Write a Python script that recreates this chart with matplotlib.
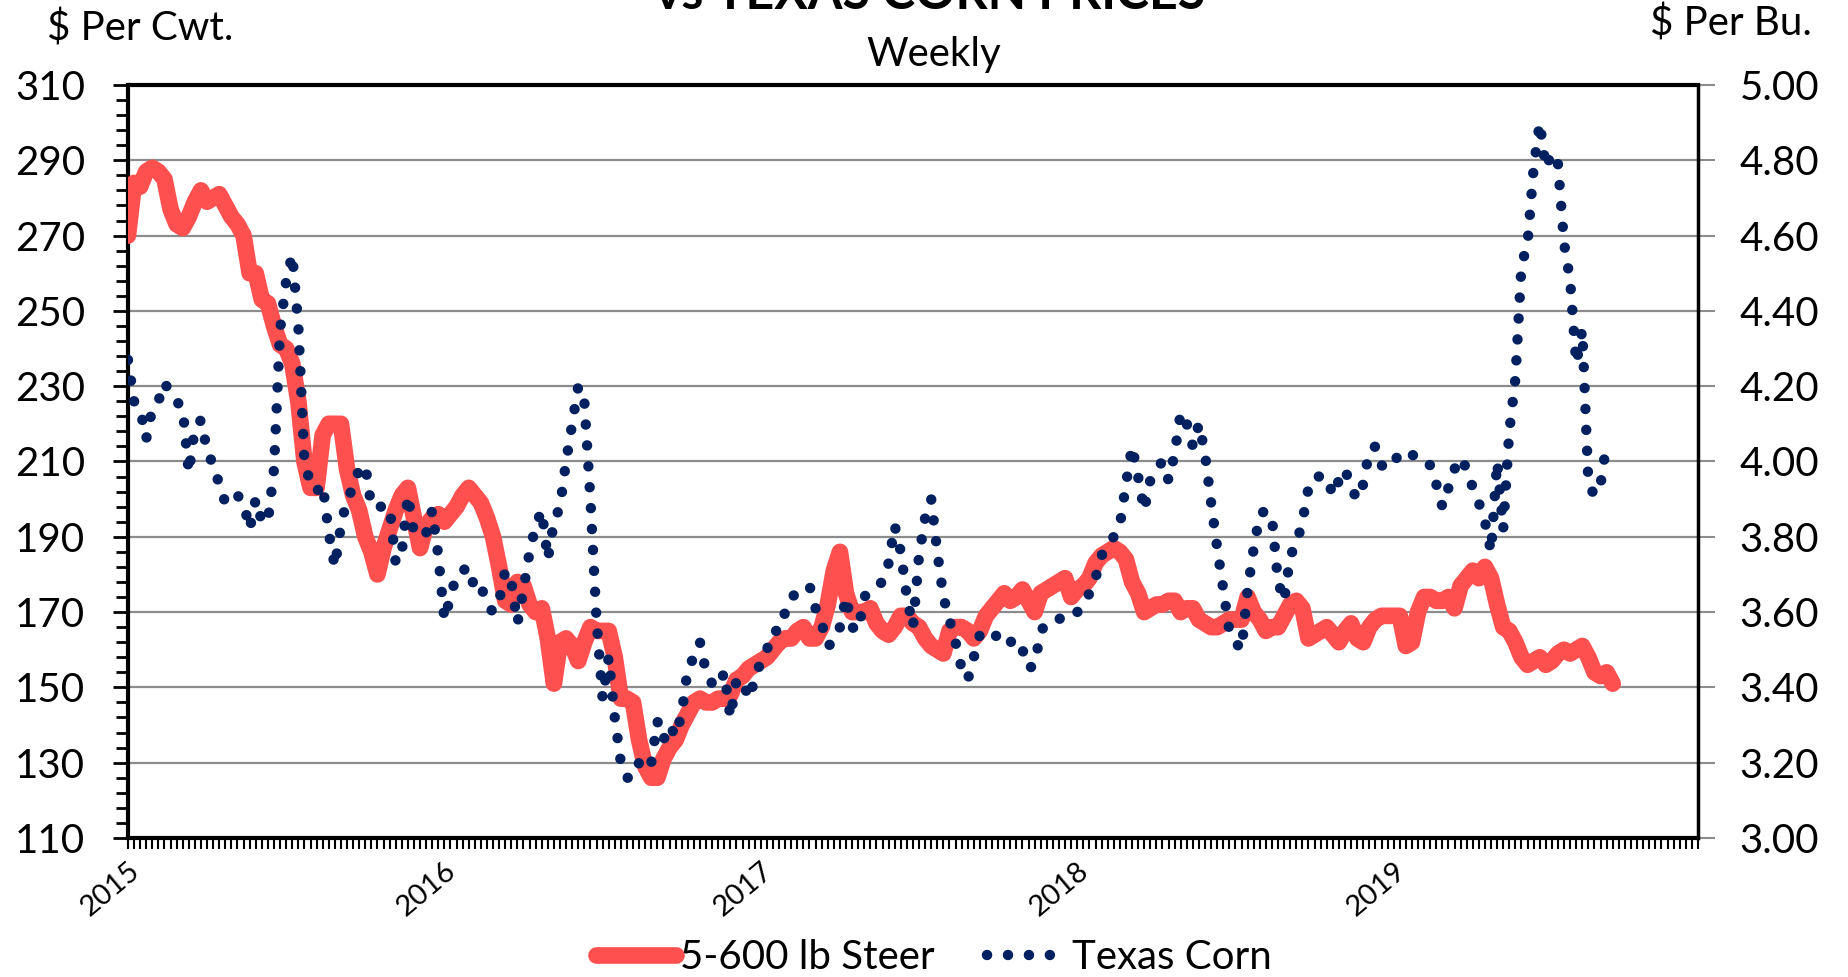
import matplotlib
matplotlib.use('Agg')
import matplotlib.pyplot as plt
from matplotlib.lines import Line2D
from matplotlib.ticker import MultipleLocator, FixedLocator

# weekly 5-600 lb steer price ($/cwt), first week of 2015 onwards
steer = [270, 284, 283, 287, 288, 287, 285, 277, 273, 272,
         275, 279, 282, 279, 280, 281, 278, 275, 273, 270,
         260, 260, 253, 252, 246, 241, 240, 236, 226, 210,
         203, 203, 217, 220, 220, 220, 208, 201, 197, 190,
         186, 180, 187, 192, 197, 201, 203, 195, 187, 193,
         195, 196, 194, 196, 198, 201, 203, 201, 199, 195,
         190, 182, 173, 172, 178, 177, 172, 170, 171, 163,
         151, 162, 163, 161, 157, 162, 166, 165, 165, 165,
         158, 147, 147, 146, 136, 129, 126, 126, 131, 134,
         136, 140, 143, 146, 147, 146, 146, 147, 147, 148,
         152, 153, 155, 156, 157, 158, 160, 162, 163, 163,
         165, 166, 163, 163, 166, 172, 181, 186, 175, 170,
         170, 170, 171, 167, 165, 164, 166, 169, 169, 167,
         166, 163, 161, 160, 159, 165, 166, 166, 165, 163,
         165, 169, 171, 173, 175, 173, 174, 176, 173, 170,
         175, 176, 177, 178, 179, 174, 176, 177, 179, 183,
         185, 186, 187, 186, 184, 178, 175, 170, 171, 172,
         172, 173, 173, 170, 171, 171, 168, 167, 166, 166,
         167, 168, 168, 168, 174, 170, 168, 165, 166, 166,
         169, 172, 173, 171, 163, 164, 165, 166, 164, 162,
         165, 167, 163, 162, 166, 168, 169, 169, 169, 169,
         161, 162, 170, 174, 174, 173, 173, 174, 171, 177,
         179, 181, 179, 182, 179, 172, 166, 165, 162, 158,
         156, 157, 158, 156, 157, 159, 160, 159, 160, 161,
         158, 154, 153, 154, 151]

# weekly Texas corn price ($/bu)
corn = [4.27, 4.16, 4.14, 4.06, 4.14, 4.16, 4.21, 4.18, 4.16, 4.14,
        3.97, 4.09, 4.11, 4.03, 3.99, 3.94, 3.89, 3.89, 3.91, 3.89,
        3.82, 3.90, 3.84, 3.84, 3.98, 4.35, 4.48, 4.55, 4.36, 4.00,
        3.94, 3.92, 3.94, 3.81, 3.72, 3.83, 3.90, 3.93, 3.98, 3.99,
        3.88, 3.88, 3.88, 3.88, 3.73, 3.76, 3.91, 3.81, 3.80, 3.81,
        3.87, 3.75, 3.58, 3.64, 3.70, 3.71, 3.72, 3.66, 3.67, 3.62,
        3.60, 3.63, 3.71, 3.68, 3.57, 3.66, 3.76, 3.83, 3.87, 3.74,
        3.84, 3.88, 4.00, 4.10, 4.20, 4.16, 3.90, 3.58, 3.37, 3.48,
        3.32, 3.20, 3.16, 3.16, 3.20, 3.18, 3.20, 3.31, 3.26, 3.30,
        3.27, 3.33, 3.45, 3.48, 3.52, 3.44, 3.41, 3.40, 3.44, 3.32,
        3.42, 3.42, 3.37, 3.42, 3.47, 3.50, 3.55, 3.55, 3.60, 3.64,
        3.65, 3.66, 3.67, 3.61, 3.57, 3.51, 3.52, 3.56, 3.64, 3.56,
        3.55, 3.64, 3.66, 3.67, 3.68, 3.73, 3.83, 3.76, 3.64, 3.56,
        3.75, 3.85, 3.90, 3.76, 3.64, 3.58, 3.52, 3.45, 3.42, 3.48,
        3.54, 3.54, 3.55, 3.53, 3.51, 3.52, 3.53, 3.50, 3.45, 3.46,
        3.55, 3.57, 3.57, 3.58, 3.60, 3.60, 3.60, 3.62, 3.65, 3.69,
        3.75, 3.78, 3.80, 3.83, 3.94, 4.04, 3.96, 3.87, 3.95, 3.98,
        4.00, 3.95, 4.02, 4.13, 4.10, 4.04, 4.10, 4.02, 3.89, 3.77,
        3.66, 3.55, 3.52, 3.50, 3.66, 3.77, 3.86, 3.87, 3.85, 3.68,
        3.63, 3.75, 3.78, 3.84, 3.93, 3.96, 3.96, 3.96, 3.91, 3.95,
        3.98, 3.93, 3.90, 3.94, 4.03, 4.04, 3.99, 3.98, 4.00, 4.02,
        4.03, 4.02, 4.00, 4.00, 3.99, 3.94, 3.88, 3.93, 3.98, 4.01,
        3.98, 3.93, 3.89, 3.84, 3.76, 4.00, 3.82, 4.08, 4.22, 4.52,
        4.58, 4.78, 4.90, 4.78, 4.82, 4.79, 4.58, 4.48, 4.26, 4.35,
        3.94, 3.91, 3.94, 4.05]

year_labels = ['2015', '2016', '2017', '2018', '2019']
year_weeks = [0, 52, 104, 156, 208]
n_weeks = 258

steer_color = '#FF5050'
corn_color = '#002060'

plt.rcParams['font.family'] = ['Lato', 'DejaVu Sans']

fig = plt.figure(figsize=(18.49, 9.77), dpi=100)
ax = fig.add_axes([0.0692, 0.1423, 0.8491, 0.7707])
ax2 = ax.twinx()

# steer on the left axis
ax.plot(range(len(steer)), steer, color=steer_color, lw=12,
        solid_capstyle='round', solid_joinstyle='round', zorder=3)
# corn on the right axis, round dots
ax2.plot(range(len(corn)), corn, color=corn_color, lw=7.5,
         linestyle=(0, (0.01, 2.0)), dash_capstyle='round', zorder=4)

ax.set_xlim(0, n_weeks)
ax.set_ylim(110, 310)
ax2.set_ylim(3.0, 5.0)

# grid
ax.yaxis.set_major_locator(FixedLocator(range(110, 311, 20)))
ax.yaxis.set_minor_locator(FixedLocator(range(110, 311, 4)))
ax.grid(axis='y', which='major', color='#8c8c8c', lw=1.6, zorder=0)
ax.set_axisbelow(True)

ax.tick_params(axis='y', which='major', direction='out', length=11, width=2,
               labelsize=29, pad=20)
ax.tick_params(axis='y', which='minor', direction='out', length=9, width=2)

ax2.yaxis.set_major_locator(MultipleLocator(0.2))
ax2.yaxis.set_major_formatter(plt.FuncFormatter(lambda v, p: '%.2f' % v))
ax2.tick_params(axis='y', direction='out', length=12, width=1.5,
                color='#8c8c8c', labelsize=29, pad=18)

# x axis: a tick every week, year labels
ax.xaxis.set_major_locator(FixedLocator(year_weeks))
ax.set_xticklabels(year_labels, rotation=40, ha='right',
                   rotation_mode='anchor', fontsize=21)
ax.xaxis.set_minor_locator(FixedLocator(range(n_weeks + 1)))
ax.tick_params(axis='x', which='both', direction='out', length=8, width=1.5,
               pad=6)

for s in ['left', 'top', 'bottom']:
    ax.spines[s].set_linewidth(3)
ax.spines['right'].set_visible(False)
for s in ['left', 'top', 'bottom']:
    ax2.spines[s].set_visible(False)
ax2.spines['right'].set_linewidth(2.5)

# titles and axis captions
fig.text(0.503, 0.991, 'vs TEXAS CORN PRICES', ha='center', va='baseline',
         fontsize=36, fontweight='bold')
fig.text(0.505, 0.944, 'Weekly', ha='center', va='center', fontsize=29)
fig.text(0.076, 0.971, '$ Per Cwt.', ha='center', va='center', fontsize=29)
fig.text(0.936, 0.976, '$ Per Bu.', ha='center', va='center', fontsize=29)

handles = [Line2D([], [], color=steer_color, lw=12, solid_capstyle='round'),
           Line2D([], [], color=corn_color, lw=7.5, linestyle=(0, (0.01, 2.0)),
                  dash_capstyle='round')]
fig.legend(handles, ['5-600 lb Steer', 'Texas Corn'], loc='center',
           bbox_to_anchor=(0.505, 0.02), ncol=2, frameon=False, fontsize=29,
           handlelength=2.0, handletextpad=0.1, columnspacing=1.3)

fig.savefig('out.png', dpi=100)
